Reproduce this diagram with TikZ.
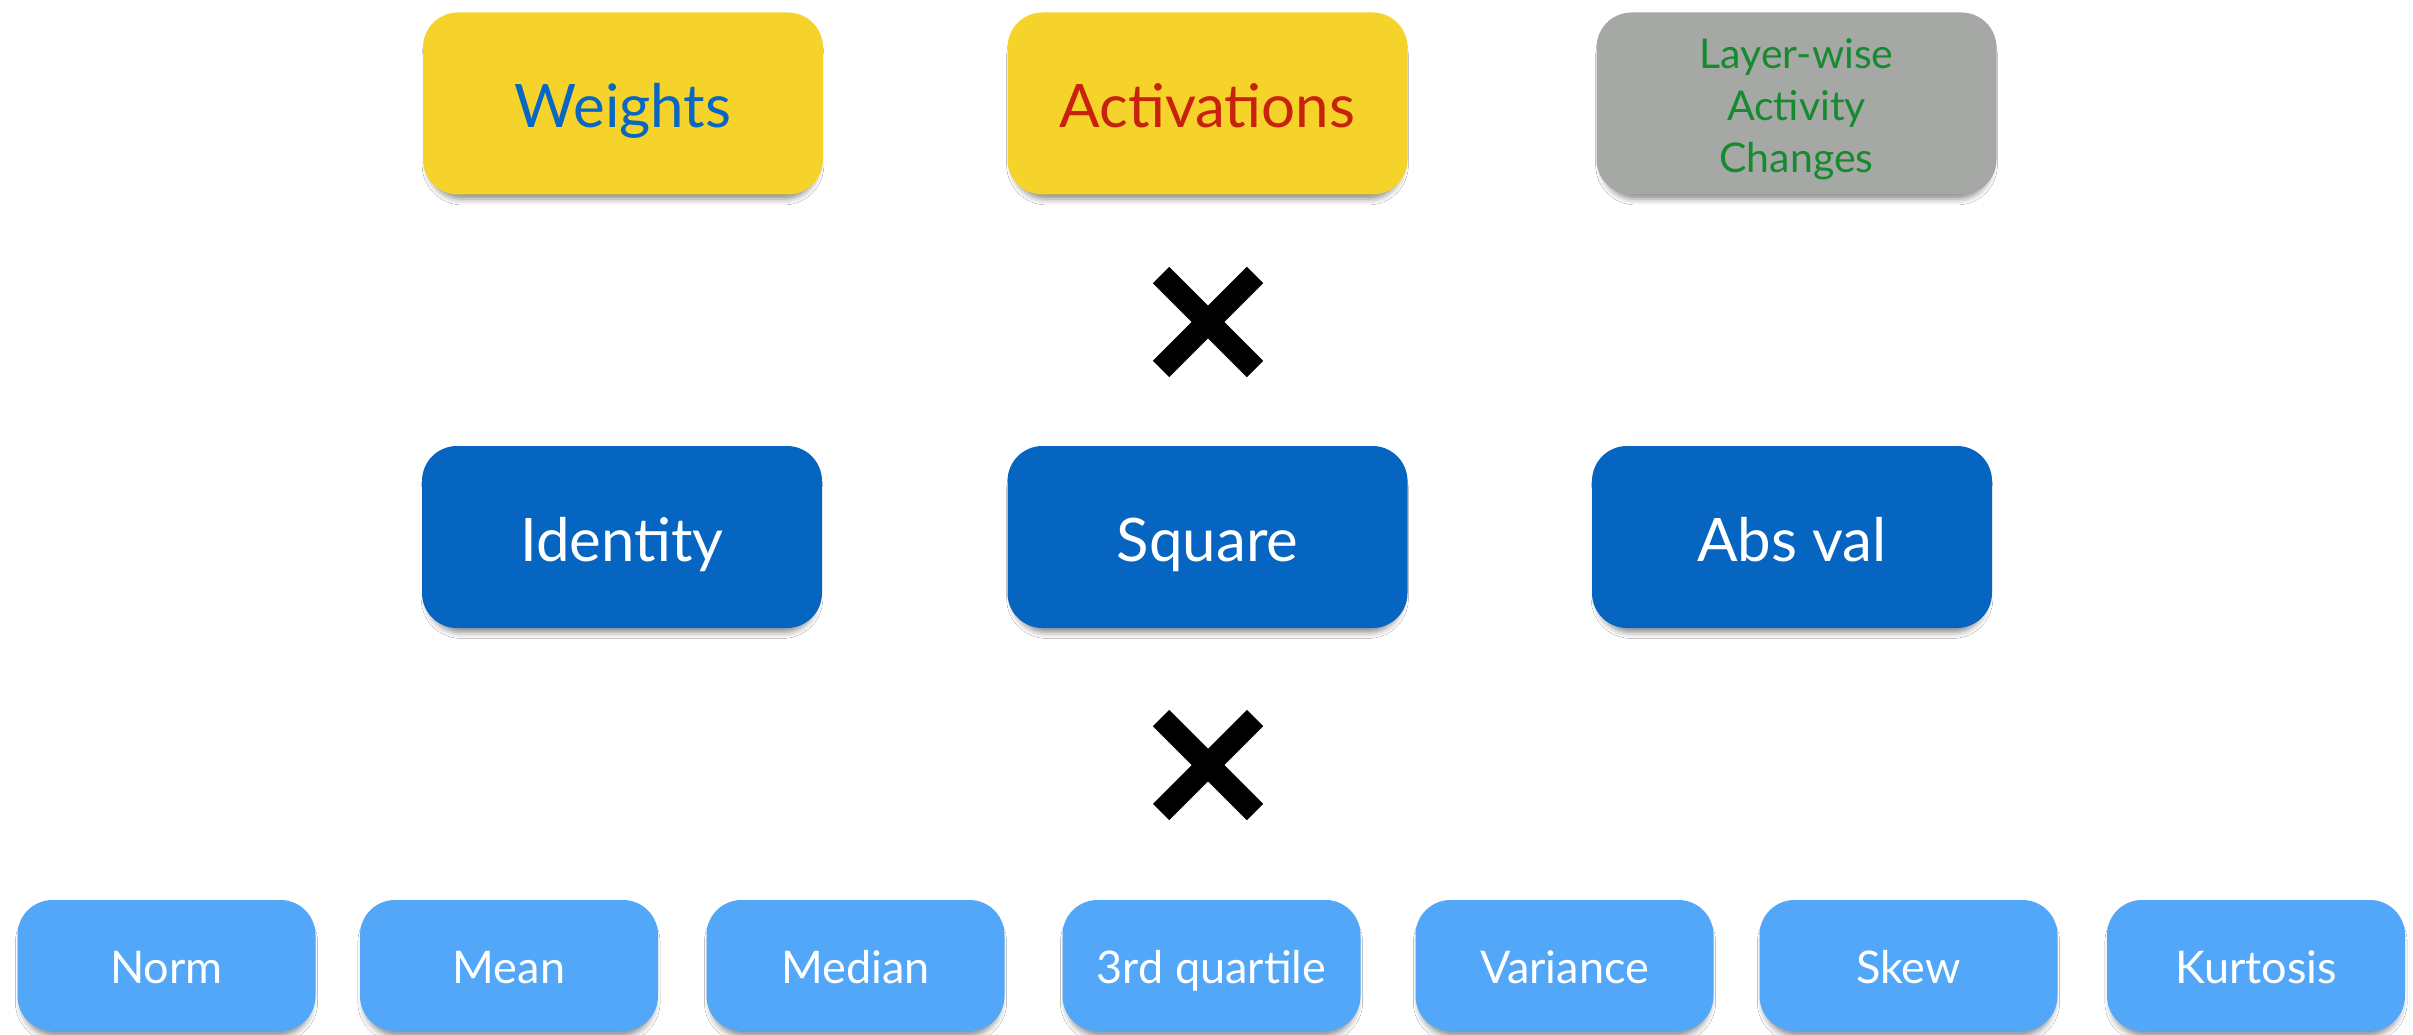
\documentclass[tikz,border=0pt]{standalone}
\usepackage{fontspec}
\setmainfont{Lato}
\usetikzlibrary{shadows.blur}
\definecolor{boxyellow}{RGB}{245,211,42}
\definecolor{boxgray}{RGB}{166,168,166}
\definecolor{boxblue}{RGB}{5,101,192}
\definecolor{boxlight}{RGB}{82,167,248}
\definecolor{txtblue}{RGB}{8,102,196}
\definecolor{txtred}{RGB}{200,34,14}
\definecolor{txtgreen}{RGB}{22,138,46}
\tikzset{
  card/.style={rounded corners=35pt, inner sep=0pt, align=center,
    blur shadow={shadow xshift=0pt, shadow yshift=-7pt, shadow scale=0.975, shadow blur radius=6pt, shadow opacity=45}},
  bigcard/.style={card, minimum width=400pt, minimum height=182pt, text height=48pt, text depth=0pt, font=\fontsize{60}{70}\selectfont},
  smallcard/.style={card, fill=boxlight, text=white, minimum width=298pt, minimum height=131pt, text height=36pt, text depth=0pt, font=\fontsize{45}{54}\selectfont},
  crossmark/.style={line width=23pt, black},
}
\begin{document}
\begin{tikzpicture}[x=1pt,y=-1pt]
\fill[white] (0,0) rectangle (2413,1035);
\useasboundingbox (0,0) rectangle (2413,1035);
% top row
\node[bigcard, fill=boxyellow, text=txtblue] (weights) at (623,103.5) {Weights};
\node[bigcard, fill=boxyellow, text=txtred] (activ) at (1207.5,103.5) {Activations};
\node[card, minimum width=400pt, minimum height=182pt, fill=boxgray, text=txtgreen, font=\fontsize{41}{52}\selectfont] (layer) at (1796.5,103.5) {\raisebox{0pt}[\dimexpr\height+14pt\relax][\depth]{\begin{tabular}{@{}c@{}}Layer-wise\\Activity\\Changes\end{tabular}}};
% crosses
\coordinate (x1) at (1208,322);
\coordinate (x2) at (1208,765);
\foreach \c in {x1,x2}{
  \draw[crossmark] ([shift={(-47,-47)}]\c) -- ([shift={(47,47)}]\c);
  \draw[crossmark] ([shift={(-47,47)}]\c) -- ([shift={(47,-47)}]\c);
}
% middle row
\node[bigcard, fill=boxblue, text=white] (ident) at (622,537) {Identity};
\node[bigcard, fill=boxblue, text=white] (square) at (1207.5,537) {Square};
\node[bigcard, fill=boxblue, text=white] (absval) at (1792,537) {Abs val};
% bottom row
\node[smallcard] (norm) at (166.5,965.5) {Norm};
\node[smallcard] (mean) at (509,965.5) {Mean};
\node[smallcard] (median) at (855.5,965.5) {Median};
\node[smallcard] (quart) at (1211.5,965.5) {3rd quartile};
\node[smallcard] (var) at (1564.5,965.5) {Variance};
\node[smallcard] (skew) at (1908.5,965.5) {Skew};
\node[smallcard] (kurt) at (2256,965.5) {Kurtosis};
\end{tikzpicture}
\end{document}
